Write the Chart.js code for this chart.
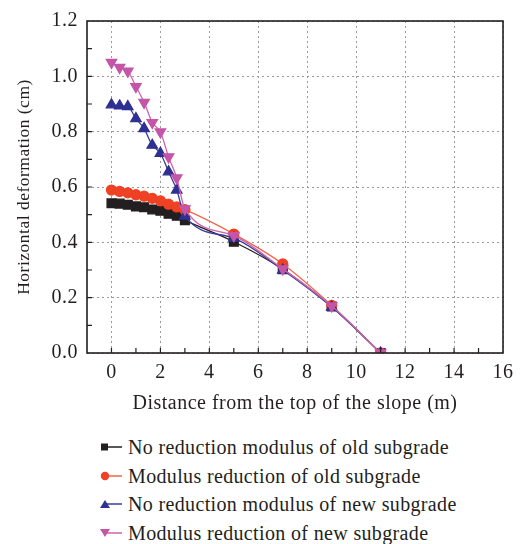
<!DOCTYPE html>
<html>
<head>
<meta charset="utf-8">
<script src="https://cdn.jsdelivr.net/npm/chart.js@4.4.1/dist/chart.umd.min.js"></script>
<style>
  html, body { margin: 0; padding: 0; background: #fff; }
  #wrap { position: relative; width: 522px; height: 544px; }
  #chart { position: absolute; left: 0; top: 0; }
  #legend {
    position: absolute; left: 100px; top: 433px;
    font-family: "Liberation Serif", "Times New Roman", serif;
    font-size: 20px; letter-spacing: 0.35px; color: #231f20;
  }
  #legend .row { height: 28.5px; line-height: 28.5px; display: flex; align-items: center; }
  #legend svg { margin-right: 4px; flex: none; }
</style>
</head>
<body>
<div id="wrap">
  <canvas id="chart" width="522" height="420"></canvas>
  <div id="legend"></div>
</div>
<script>
// distance from the top of the slope (m)
const distances = [0, 0.333, 0.667, 1, 1.333, 1.667, 2, 2.333, 2.667, 3, 5, 7, 9, 11];

// horizontal deformation (cm)
const oldNoReduction = [0.541, 0.540, 0.536, 0.530, 0.527, 0.519, 0.514, 0.503, 0.496, 0.480, 0.402, 0.303, 0.168, 0];
const oldReduction   = [0.589, 0.584, 0.579, 0.572, 0.567, 0.559, 0.550, 0.538, 0.528, 0.518, 0.430, 0.322, 0.172, 0];
const newNoReduction = [0.897, 0.893, 0.891, 0.847, 0.811, 0.751, 0.722, 0.655, 0.589, 0.495, 0.415, 0.300, 0.166, 0];
const newReduction   = [1.050, 1.032, 1.019, 0.963, 0.906, 0.833, 0.799, 0.709, 0.633, 0.521, 0.424, 0.304, 0.170, 0];

const seriesNames = [
  'No reduction modulus of old subgrade',
  'Modulus reduction of old subgrade',
  'No reduction modulus of new subgrade',
  'Modulus reduction of new subgrade'
];

const xTicks = [0, 2, 4, 6, 8, 10, 12, 14, 16];
const yTicks = [0, 0.2, 0.4, 0.6, 0.8, 1.0, 1.2];

const FONT = '"Liberation Serif", "Times New Roman", serif';
const INK = '#231f20';

const styles = [
  { line: '#231f20', fill: '#231f20', shape: 'rect',     radius: 6.2, rot: 0,   order: 3 },
  { line: '#f0654a', fill: '#ef4123', shape: 'circle',   radius: 5,   rot: 0,   order: 2 },
  { line: '#3a3d98', fill: '#2e3192', shape: 'triangle', radius: 6,   rot: 0,   order: 1 },
  { line: '#cd62b0', fill: '#c455a7', shape: 'triangle', radius: 6,   rot: 180, order: 0 }
];

const allSeries = [oldNoReduction, oldReduction, newNoReduction, newReduction];

const datasets = allSeries.map((vals, i) => ({
  label: seriesNames[i],
  data: vals.map((v, k) => ({ x: distances[k], y: v })),
  borderColor: styles[i].line,
  backgroundColor: styles[i].fill,
  pointBackgroundColor: styles[i].fill,
  pointBorderColor: styles[i].fill,
  pointStyle: styles[i].shape,
  pointRadius: styles[i].radius,
  pointRotation: styles[i].rot,
  borderWidth: 1.3,
  cubicInterpolationMode: 'monotone',
  order: styles[i].order
}));

// slightly wider serif text on the canvas
const spacing = {
  id: 'spacing',
  beforeDraw(chart) { chart.ctx.letterSpacing = '0.5px'; }
};

// box around the plot plus short inward tick marks
const frameTicks = {
  id: 'frameTicks',
  afterDraw(chart) {
    const { ctx, chartArea: a, scales: { x, y } } = chart;
    ctx.save();
    ctx.strokeStyle = INK;
    ctx.lineWidth = 1.2;
    ctx.beginPath();
    for (let v = 0; v <= 15; v++) {
      const px = x.getPixelForValue(v);
      ctx.moveTo(px, a.bottom);
      ctx.lineTo(px, a.bottom - 5);
    }
    for (let k = 1; k < 12; k++) {
      const py = y.getPixelForValue(k / 10);
      ctx.moveTo(a.left, py);
      ctx.lineTo(a.left + 5, py);
    }
    ctx.stroke();
    ctx.lineWidth = 1.6;
    ctx.strokeRect(a.left, a.top, a.right - a.left, a.bottom - a.top);
    ctx.restore();
  }
};

new Chart(document.getElementById('chart'), {
  type: 'line',
  data: { datasets },
  options: {
    responsive: false,
    animation: false,
    layout: { padding: { top: 19, right: 19, left: 0, bottom: 0 } },
    plugins: { legend: { display: false }, tooltip: { enabled: false } },
    scales: {
      x: {
        type: 'linear',
        min: -1, max: 16,
        afterBuildTicks: s => { s.ticks = xTicks.map(v => ({ value: v })); },
        afterFit: s => { s.height = 67; },
        grid: { color: '#9a9a9a', lineWidth: 1, drawTicks: false },
        border: { display: false, dash: [2, 3] },
        ticks: { color: INK, font: { family: FONT, size: 20 }, padding: 8, maxRotation: 0 },
        title: { display: true, text: 'Distance from the top of the slope (m)', color: INK,
                 font: { family: FONT, size: 20 }, padding: { top: 2 } }
      },
      y: {
        min: 0, max: 1.2,
        afterBuildTicks: s => { s.ticks = yTicks.map(v => ({ value: v })); },
        afterFit: s => { s.width = 87; },
        grid: { color: '#9a9a9a', lineWidth: 1, drawTicks: false },
        border: { display: false, dash: [2, 3] },
        ticks: { color: INK, font: { family: FONT, size: 20 }, padding: 9, callback: v => v.toFixed(1) },
        title: { display: true, text: 'Horizontal deformation (cm)', color: INK,
                 font: { family: FONT, size: 17.5 }, padding: { top: 14, bottom: 0 } }
      }
    }
  },
  plugins: [spacing, frameTicks]
});

// legend rows: short line with marker at its left end, then the name
const legend = document.getElementById('legend');
const svgMarker = (s) => {
  if (s.shape === 'rect') return `<rect x="1" y="3.5" width="7" height="7" fill="${s.fill}"/>`;
  if (s.shape === 'circle') return `<circle cx="5" cy="7" r="4.2" fill="${s.fill}"/>`;
  if (s.rot === 180) return `<polygon points="0,3 10,3 5,11" fill="${s.fill}"/>`;
  return `<polygon points="0,11 10,11 5,3" fill="${s.fill}"/>`;
};
seriesNames.forEach((name, i) => {
  const s = styles[i];
  const row = document.createElement('div');
  row.className = 'row';
  row.innerHTML = `<svg width="24" height="14"><line x1="3" y1="7" x2="22" y2="7" stroke="${s.line}" stroke-width="1.5"/>${svgMarker(s)}</svg><span>${name}</span>`;
  legend.appendChild(row);
});
</script>
</body>
</html>
